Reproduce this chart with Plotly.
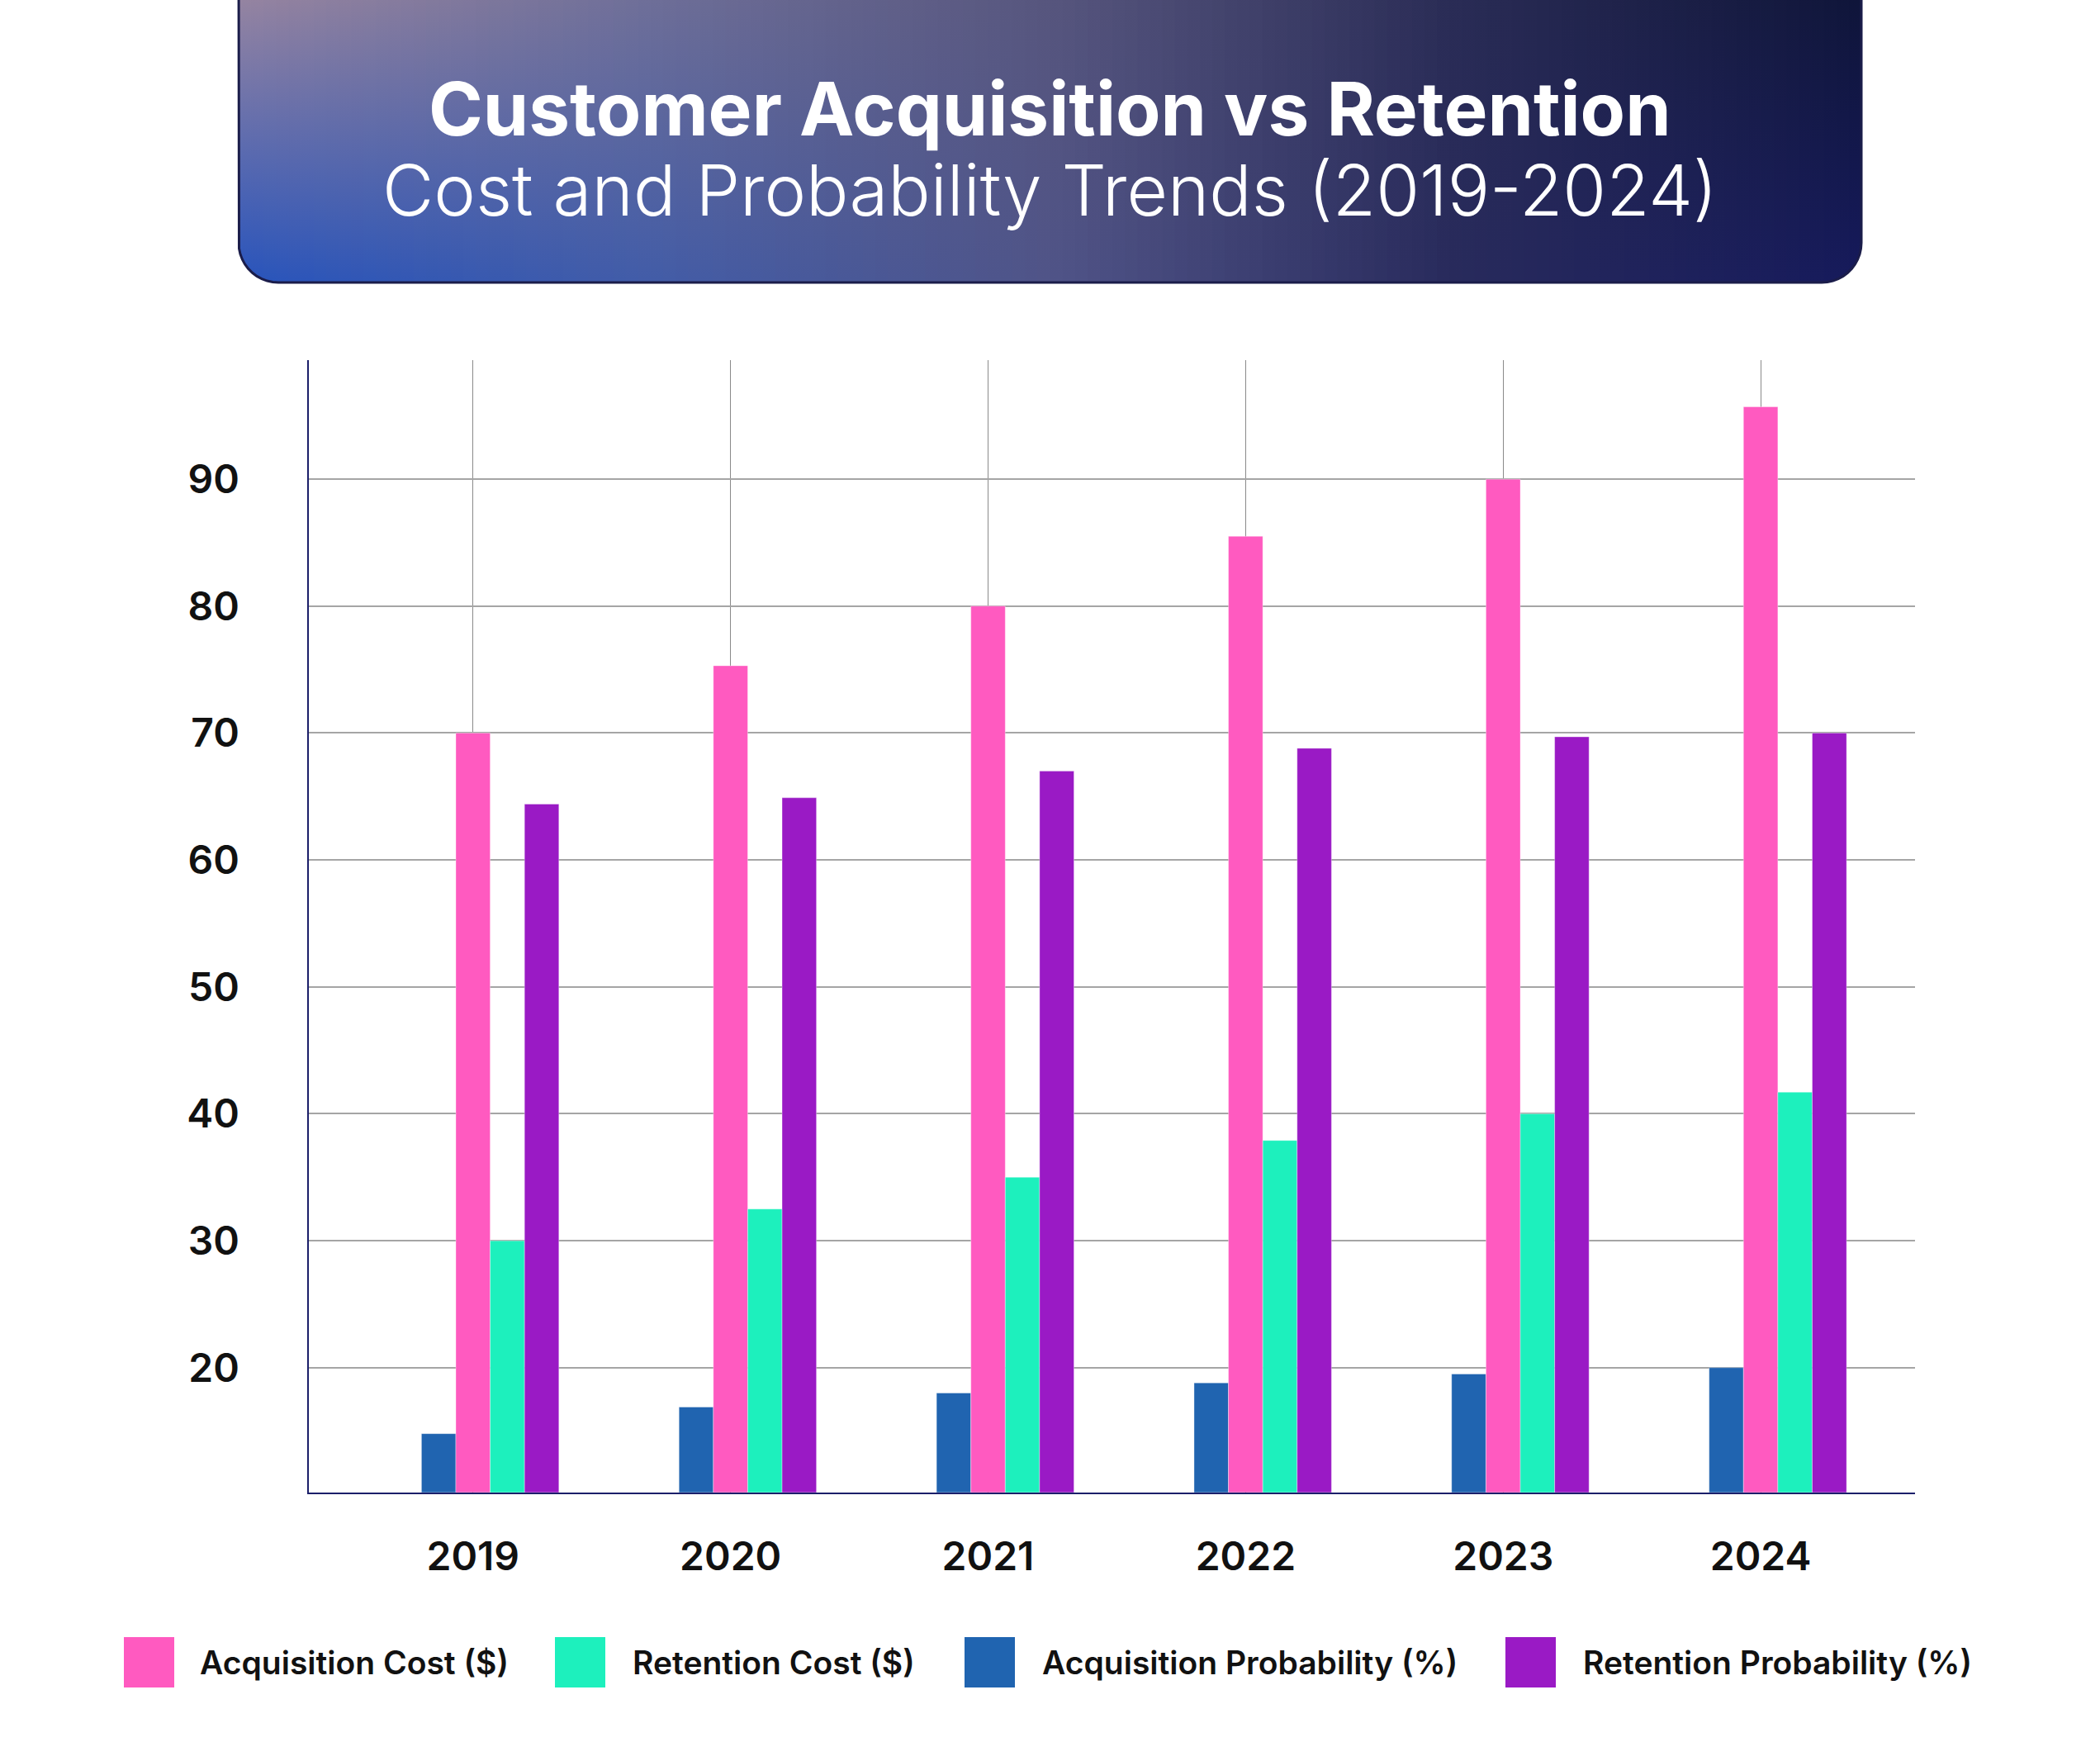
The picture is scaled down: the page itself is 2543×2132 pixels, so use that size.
import numpy as np
import plotly.graph_objects as go

# ---------------- data ----------------
years = ["2019", "2020", "2021", "2022", "2023", "2024"]
acquisition_cost = [70.0, 75.3, 80.0, 85.5, 90.0, 95.7]
retention_cost = [30.0, 32.5, 35.0, 37.9, 40.0, 41.7]
acquisition_prob = [14.8, 16.9, 18.0, 18.8, 19.5, 20.0]
retention_prob = [64.4, 64.9, 67.0, 68.8, 69.7, 70.0]
y_ticks = [20, 30, 40, 50, 60, 70, 80, 90]

title_text = "Customer Acquisition vs Retention"
subtitle_text = "Cost and Probability Trends (2019-2024)"

# ---------------- styles ----------------
W, H = 2543, 2132
FONT = "Inter, 'Open Sans', sans-serif"
C_PINK, C_TEAL, C_BLUE, C_PURPLE = "#FF5AC0", "#1DF0BD", "#2064B0", "#9A1AC5"

# series: (name, values, color, slot in group of 5)
series = [
    ("Acquisition Probability (%)", acquisition_prob, C_BLUE, 1),
    ("Acquisition Cost ($)", acquisition_cost, C_PINK, 2),
    ("Retention Cost ($)", retention_cost, C_TEAL, 3),
    ("Retention Probability (%)", retention_prob, C_PURPLE, 4),
]
legend_order = [
    ("Acquisition Cost ($)", C_PINK),
    ("Retention Cost ($)", C_TEAL),
    ("Acquisition Probability (%)", C_BLUE),
    ("Retention Probability (%)", C_PURPLE),
]

fig = go.Figure()

# ---------------- bars ----------------
bw = 0.1334
for name, vals, col, slot in series:
    fig.add_trace(go.Bar(
        x=years, y=vals, name=name, width=bw, offset=-2.5 * bw + slot * bw,
        marker=dict(color=col, line=dict(width=1, color="rgba(255,255,255,0.35)")),
        showlegend=False, xaxis="x", yaxis="y",
    ))

# ---------------- header box (decoration, pixel coords on x2/y2) ----------------
L, R, B, TOP, rad = 289, 2254, 342, -60, 48


def yb(x):
    if x < L + rad:
        dx = L + rad - x
        return B - rad + np.sqrt(max(rad * rad - dx * dx, 0))
    if x > R - rad:
        dx = x - (R - rad)
        return B - rad + np.sqrt(max(rad * rad - dx * dx, 0))
    return B


us = [0.0, 0.25, 0.5, 0.75, 1.0]
top_cols = np.array([(168, 140, 156), (118, 114, 150), (88, 86, 124), (42, 44, 84), (14, 20, 52)], float)
bot_cols = np.array([(40, 84, 188), (66, 92, 168), (80, 84, 136), (40, 42, 92), (22, 26, 92)], float)


def col_at(u, arr):
    c = [np.interp(u, us, arr[:, k]) for k in range(3)]
    return "rgb(%d,%d,%d)" % tuple(int(round(v)) for v in c)


n = 130
for i in range(n):
    x0 = L + (R - L) * i / n
    x1 = min(L + (R - L) * (i + 1) / n + 1.5, R)
    u = (i + 0.5) / n
    xs_b = np.linspace(x1, x0, 6)
    px = [x0, x1] + list(xs_b) + [x0]
    py = [TOP, TOP] + [yb(v) for v in xs_b] + [TOP]
    fig.add_trace(go.Scatter(
        x=px, y=py, mode="lines", fill="toself", line=dict(width=0),
        fillcolor=col_at(u, top_cols),
        fillgradient=dict(type="vertical", colorscale=[[0, col_at(u, top_cols)], [1, col_at(u, bot_cols)]],
                          start=TOP, stop=B),
        hoverinfo="skip", showlegend=False, xaxis="x2", yaxis="y2",
    ))

# outline
th = np.linspace(np.pi, np.pi / 2, 12)
ox = [L] + list(L + rad + rad * np.cos(th)) + list(R - rad - rad * np.cos(th[::-1])) + [R]
oy = [TOP] + list(B - rad + rad * np.sin(th)) + list(B - rad + rad * np.sin(th[::-1])) + [TOP]
fig.add_trace(go.Scatter(x=ox, y=oy, mode="lines", line=dict(color="#1b1d4a", width=3),
                         hoverinfo="skip", showlegend=False, xaxis="x2", yaxis="y2"))

annotations = [
    dict(x=(L + R) / 2, y=131, xref="x2", yref="y2", text=title_text, showarrow=False,
         xanchor="center", yanchor="middle",
         font=dict(family=FONT, size=89, color="white", weight=700)),
    dict(x=(L + R) / 2, y=230, xref="x2", yref="y2", text=subtitle_text, showarrow=False,
         xanchor="center", yanchor="middle",
         font=dict(family=FONT, size=85.5, color="white", weight=300)),
]

# ---------------- custom legend ----------------
sq_x = [150, 672, 1168, 1823]
txt_x = [240, 764, 1260, 1915]
shapes = []
for (name, col), sx, tx in zip(legend_order, sq_x, txt_x):
    shapes.append(dict(type="rect", xref="x2", yref="y2", x0=sx, x1=sx + 61, y0=1982, y1=2043,
                       fillcolor=col, line=dict(width=0)))
    annotations.append(dict(x=tx, y=2012, xref="x2", yref="y2", text=name, showarrow=False,
                            xanchor="left", yanchor="middle",
                            font=dict(family=FONT, size=39, color="#111111", weight=600)))

axis_col = "#1b1f6a"
fig.update_layout(
    width=W, height=H, margin=dict(l=0, r=0, t=0, b=0),
    paper_bgcolor="white", plot_bgcolor="rgba(0,0,0,0)",
    barmode="overlay", font=dict(family=FONT),
    xaxis=dict(type="category", domain=[373.5 / W, 2319.2 / W], range=[-0.639, 5.6],
               anchor="y", showgrid=True, gridcolor="#8a8a8a", gridwidth=1,
               showline=True, linecolor=axis_col, linewidth=2, ticks="", zeroline=False,
               tickfont=dict(family=FONT, size=48, color="#111111", weight=600),
               ticklabelstandoff=35),
    yaxis=dict(domain=[1 - 1806.7 / H, 1 - 436.3 / H], range=[10.18, 99.36], anchor="x",
               tickvals=y_ticks, showgrid=True, gridcolor="#a5a5a5", gridwidth=1.5,
               showline=True, linecolor=axis_col, linewidth=2, ticks="", zeroline=False,
               tickfont=dict(family=FONT, size=48, color="#111111", weight=600),
               ticklabelstandoff=72),
    xaxis2=dict(domain=[0, 1], range=[0, W], anchor="y2", visible=False, fixedrange=True),
    yaxis2=dict(domain=[0, 1], range=[H, 0], anchor="x2", visible=False, fixedrange=True),
    annotations=annotations, shapes=shapes,
)

fig.write_html("out.html", config={"displayModeBar": False},
               post_script="document.body.style.margin='0';")
